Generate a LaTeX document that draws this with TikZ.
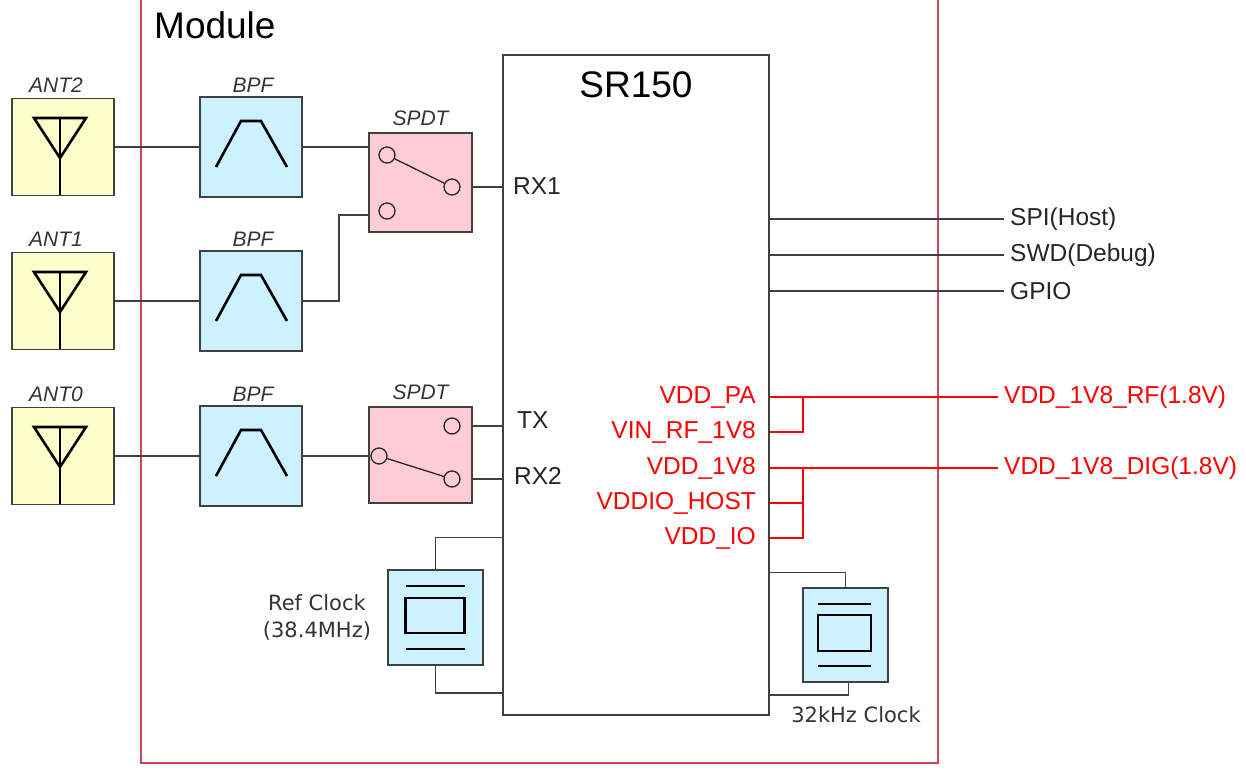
\documentclass[tikz,border=0pt]{standalone}
\usepackage{fontspec}
\setmainfont{Liberation Sans}
\newfontfamily\clockfont{DejaVu Sans}
\usepackage{xcolor}
\usepackage{tikz}
\usetikzlibrary{positioning}
\usetikzlibrary{calc}
\definecolor{antyellow}{HTML}{FFFFCC}
\definecolor{filtblue}{HTML}{CCF2FF}
\definecolor{swpink}{HTML}{FFCCD6}
\definecolor{modred}{HTML}{C8465A}
\definecolor{wiregray}{HTML}{404040}

\begin{document}
\begin{tikzpicture}[x=1pt, y=-1pt,
  box/.style={draw=wiregray, line width=1.6pt, inner sep=0pt},
  antbox/.style={box, fill=antyellow, minimum width=102pt, minimum height=97pt},
  bpfbox/.style={box, fill=filtblue, minimum width=102pt, minimum height=100pt},
  swbox/.style={box, fill=swpink, minimum width=103pt, minimum height=97pt},
  clkbox/.style={box, fill=filtblue},
  chipbox/.style={box, fill=white, minimum width=266pt, minimum height=660pt},
  swport/.style={circle, draw=black!85, line width=1.3pt, minimum size=16pt, inner sep=0pt},
  symline/.style={draw=black, line width=2.6pt},
  wireline/.style={draw=wiregray, line width=1.4pt},
  pwrline/.style={draw=red, line width=1.4pt},
  boxtag/.style={font=\fontsize{21}{21}\selectfont\itshape, text=black!80, inner sep=0pt},
  pinlabel/.style={font=\fontsize{24.5}{24.5}\selectfont, text=black!85, inner sep=0pt},
  pwrlabel/.style={font=\fontsize{24.5}{24.5}\selectfont, text=red, inner sep=0pt},
  netlabel/.style={font=\fontsize{24.5}{24.5}\selectfont, text=black!85, inner sep=0pt, inner xsep=6pt},
  clklabel/.style={font=\clockfont\fontsize{21}{27}\selectfont, text=black!80, inner sep=0pt, align=center}]
  \useasboundingbox (0,0) rectangle (1246,771);
  %% Module frame
  \draw [modred, line width=1.6pt] (141,-2) -- (141,763) -- (938,763) -- (938,-2);
  \node [anchor=west, inner sep=0pt, font=\fontsize{37}{37}\selectfont] (modtitle) at (154,25) {Module};
  %% Chip
  \node [chipbox] (chip) at (636,385) {};
  \node [font=\fontsize{37}{37}\selectfont, inner sep=0pt] (chipname) at (636,85) {SR150};
  %% Antennas and filters
  \node [antbox] (ant2) at (63,147) {};
  \node [antbox] (ant1) at (63,301) {};
  \node [antbox] (ant0) at (63,456) {};
  \node [bpfbox] (bpf2) at (251,147) {};
  \node [bpfbox] (bpf1) at (251,301) {};
  \node [bpfbox] (bpf0) at (251,456) {};
  \node [boxtag, above=5pt of ant2, xshift=-7pt] (ant2tag) {ANT2};
  \node [boxtag, above=5pt of ant1, xshift=-7pt] (ant1tag) {ANT1};
  \node [boxtag, above=5pt of ant0, xshift=-7pt] (ant0tag) {ANT0};
  \node [boxtag, above=4pt of bpf2, xshift=2pt] (bpf2tag) {BPF};
  \node [boxtag, above=4pt of bpf1, xshift=2pt] (bpf1tag) {BPF};
  \node [boxtag, above=4pt of bpf0, xshift=2pt] (bpf0tag) {BPF};
  \foreach \n in {ant2,ant1,ant0} {
    \draw [symline] ($(\n)+(-29,-29)$) -- ($(\n)+(23,-29)$) -- ($(\n)+(-3,11)$) -- cycle;
    \draw [symline] ($(\n)+(-3,-29)$) -- ($(\n)+(-3,48)$);
  }
  \foreach \n in {bpf2,bpf1,bpf0} {
    \draw [symline] ($(\n)+(-35,20)$) -- ($(\n)+(-10,-26)$) -- ($(\n)+(10,-26)$) -- ($(\n)+(36,20)$);
  }
  %% Switches
  \node [swbox, minimum height=99pt] (sw1) at (420.5,182.5) {};
  \node [swbox, minimum height=96pt] (sw0) at (420.5,455) {};
  \node [boxtag, above=6pt of sw1] (sw1tag) {SPDT};
  \node [boxtag, above=6pt of sw0] (sw0tag) {SPDT};
  \node [swport] (s1a) at (387,155) {};
  \node [swport] (s1b) at (452,187) {};
  \node [swport] (s1c) at (387,211) {};
  \node [swport] (s0a) at (452,426) {};
  \node [swport] (s0b) at (379,456) {};
  \node [swport] (s0c) at (452,479) {};
  \draw [line width=1.3pt, black!85] (s1a) -- (s1b);
  \draw [line width=1.3pt, black!85] (s0b) -- (s0c);
  %% RF wiring
  \draw [wireline] (ant2.east) -- (bpf2.west);
  \draw [wireline] (ant1.east) -- (bpf1.west);
  \draw [wireline] (ant0.east) -- (bpf0.west);
  \draw [wireline] (bpf2.east) -- (bpf2.east -| sw1.west);
  \draw [wireline] (bpf1.east) -- ++(36,0) |- ([yshift=-4pt]sw1.west |- s1c);
  \draw [wireline] (bpf0.east) -- (s0b.west);
  \draw [wireline] (sw1.east |- s1b) -- (chip.west |- s1b);
  \draw [wireline] (sw0.east |- s0a) -- (chip.west |- s0a);
  \draw [wireline] (sw0.east |- s0c) -- (chip.west |- s0c);
  \node [pinlabel, anchor=west] (rx1) at (513,186) {RX1};
  \node [pinlabel, anchor=west] (tx) at (517,420) {TX};
  \node [pinlabel, anchor=west] (rx2) at (514,476) {RX2};
  %% Host side
  \node [netlabel, anchor=west] (spi) at (1004,219) {SPI(Host)};
  \node [netlabel, anchor=west] (swd) at (1004,255) {SWD(Debug)};
  \node [netlabel, anchor=west] (gpio) at (1004,291) {GPIO};
  \draw [wireline] (chip.east |- spi.west) -- (spi.west);
  \draw [wireline] (chip.east |- swd.west) -- (swd.west);
  \draw [wireline] (chip.east |- gpio.west) -- (gpio.west);
  %% Supplies
  \node [pwrlabel, anchor=east] (vddpa) at (756,397) {VDD\_PA};
  \node [pwrlabel, anchor=east] (vinrf) at (756,432) {VIN\_RF\_1V8};
  \node [pwrlabel, anchor=east] (vdd18) at (756,468) {VDD\_1V8};
  \node [pwrlabel, anchor=east] (vddio) at (756,503) {VDDIO\_HOST};
  \node [pwrlabel, anchor=east] (vddioc) at (756,538) {VDD\_IO};
  \node [pwrlabel, anchor=west, inner xsep=6pt] (rfrail) at (998,397) {VDD\_1V8\_RF(1.8V)};
  \node [pwrlabel, anchor=west, inner xsep=6pt] (digrail) at (998,468) {VDD\_1V8\_DIG(1.8V)};
  \draw [pwrline] (chip.east |- vddpa.east) -- (rfrail.west);
  \draw [pwrline] (chip.east |- vdd18.east) -- (digrail.west);
  \draw [pwrline] (chip.east |- vinrf.east) -| (803,397);
  \draw [pwrline] (chip.east |- vddioc.east) -| (803,468);
  \draw [pwrline] (chip.east |- vddio.east) -- (803,503);
  %% Clocks
  \node [clkbox, minimum width=95pt, minimum height=95pt] (refclk) at (435.5,617.5) {};
  \node [clkbox, minimum width=85pt, minimum height=94pt] (lfclk) at (845.5,635) {};
  \draw [symline] ($(refclk)+(-30,-31.5)$) -- ($(refclk)+(29,-31.5)$);
  \draw [symline] ($(refclk)+(-30,-19.5)$) rectangle ($(refclk)+(29,15.5)$);
  \draw [symline] ($(refclk)+(-30,31.5)$) -- ($(refclk)+(29,31.5)$);
  \draw [symline] ($(lfclk)+(-27.5,-31)$) -- ($(lfclk)+(25.5,-31)$);
  \draw [symline] ($(lfclk)+(-27.5,-20)$) rectangle ($(lfclk)+(25.5,16)$);
  \draw [symline] ($(lfclk)+(-27.5,31)$) -- ($(lfclk)+(25.5,31)$);
  \draw [wireline] (refclk.north) -- ++(0,-32) coordinate (rk1) -- (chip.west |- rk1);
  \draw [wireline] (refclk.south) -- ++(0,27) coordinate (rk2) -- (chip.west |- rk2);
  \draw [wireline] (lfclk.north) -- ++(0,-15) coordinate (lk1) -- (chip.east |- lk1);
  \draw [wireline] ([xshift=3pt]lfclk.south) -- ++(0,12) coordinate (lk2) -- (chip.east |- lk2);
  \node [clklabel, left=16pt of refclk] (reflbl) {Ref Clock\\(38.4MHz)};
  \node [clklabel] (lflbl) at (856,715) {32kHz Clock};
\end{tikzpicture}
\end{document}
